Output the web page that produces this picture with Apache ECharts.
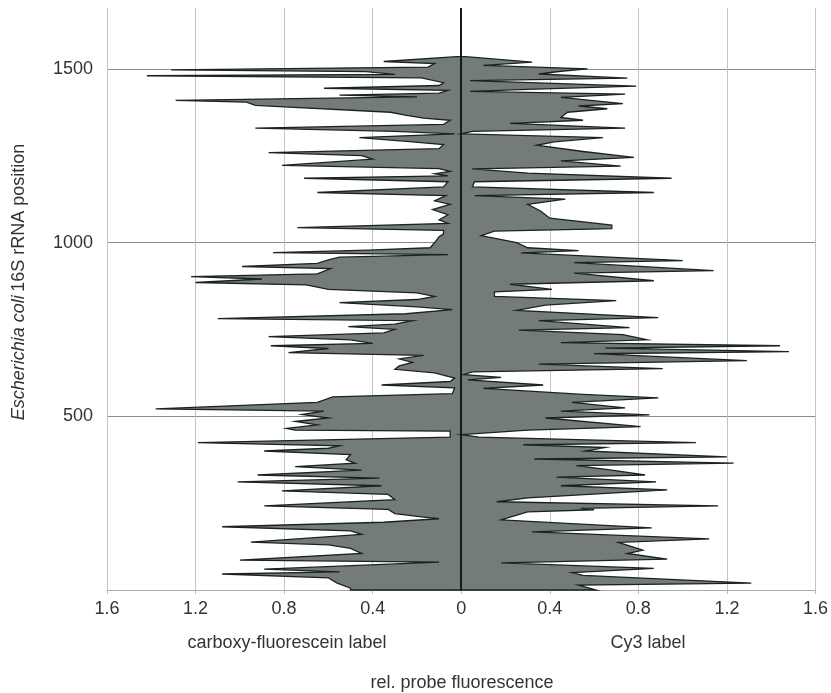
<!DOCTYPE html>
<html>
<head>
<meta charset="utf-8">
<script src="https://cdn.jsdelivr.net/npm/echarts@6/dist/echarts.min.js"></script>
<style>
html,body{margin:0;padding:0;background:#fff;}
#chart{width:831px;height:693px;}
</style>
</head>
<body>
<div id="chart"></div>
<script>
// [rRNA position, rel. fluorescence], listed from the 3' end (top) down
var cfProfile = [
    [1535,0.02],[1521,0.35],[1515,0.12],[1505,0.15],[1497,1.31],[1492,0.43],[1484,0.3],[1480,1.42],
    [1474,0.18],[1460,0.08],[1452,0.1],[1444,0.62],[1438,0.06],[1430,0.1],[1424,0.55],[1419,0.2],
    [1409,1.29],[1404,0.97],[1395,0.93],[1375,0.32],[1365,0.24],[1358,0.17],[1352,0.05],[1340,0.08],
    [1329,0.93],[1320,0.3],[1313,0.03],[1302,0.46],[1290,0.22],[1282,0.08],[1270,0.1],[1259,0.87],
    [1250,0.45],[1240,0.4],[1222,0.81],[1213,0.1],[1205,0.05],[1198,0.12],[1192,0.06],[1185,0.71],
    [1175,0.06],[1160,0.08],[1144,0.65],[1135,0.07],[1120,0.12],[1110,0.05],[1095,0.13],[1080,0.06],
    [1065,0.1],[1055,0.06],[1043,0.74],[1035,0.08],[1025,0.08],[1017,0.1],[1000,0.12],[985,0.14],
    [978,0.42],[971,0.85],[965,0.06],[958,0.55],[950,0.6],[940,0.65],[931,0.99],[925,0.59],
    [910,0.65],[902,1.22],[895,0.9],[885,1.2],[878,0.7],[865,0.6],[855,0.2],[845,0.12],
    [836,0.2],[827,0.55],[815,0.2],[807,0.04],[795,0.25],[781,1.1],[775,0.22],[765,0.3],
    [758,0.51],[750,0.3],[740,0.35],[729,0.87],[720,0.5],[710,0.4],[703,0.86],[695,0.6],
    [683,0.78],[675,0.17],[665,0.28],[655,0.22],[645,0.28],[635,0.3],[625,0.12],[610,0.03],
    [600,0.05],[590,0.36],[582,0.03],[565,0.04],[556,0.58],[540,0.65],[521,1.38],[515,0.62],
    [505,0.72],[495,0.6],[485,0.75],[475,0.65],[465,0.79],[460,0.75],[457,0.05],[440,0.05],
    [424,1.19],[415,0.55],[408,0.6],[400,0.89],[390,0.5],[375,0.52],[365,0.48],[355,0.75],
    [345,0.45],[331,0.92],[322,0.37],[311,1.01],[300,0.36],[285,0.81],[275,0.33],[260,0.3],
    [242,0.89],[232,0.33],[220,0.3],[210,0.17],[205,0.1],[195,0.35],[182,1.08],[170,0.5],
    [160,0.45],[138,0.95],[130,0.6],[120,0.5],[105,0.45],[86,1.0],[80,0.1],[60,0.89],
    [52,0.55],[46,1.08],[35,0.6],[20,0.56],[5,0.5],[0,0.5]
];
var cy3Profile = [
    [1535,0.02],[1519,0.32],[1510,0.1],[1500,0.57],[1493,0.45],[1485,0.35],[1473,0.75],[1466,0.04],
    [1450,0.79],[1441,0.3],[1435,0.04],[1427,0.74],[1418,0.45],[1400,0.73],[1393,0.53],[1385,0.66],
    [1375,0.48],[1360,0.45],[1352,0.55],[1343,0.22],[1329,0.74],[1320,0.05],[1313,0.0],[1302,0.64],
    [1290,0.42],[1280,0.34],[1262,0.55],[1245,0.78],[1235,0.45],[1220,0.72],[1212,0.05],[1200,0.3],
    [1185,0.95],[1175,0.06],[1160,0.05],[1144,0.87],[1135,0.06],[1125,0.47],[1110,0.3],[1090,0.36],
    [1070,0.4],[1050,0.68],[1040,0.68],[1033,0.15],[1020,0.09],[1000,0.25],[985,0.3],[977,0.53],
    [970,0.27],[948,1.0],[942,0.51],[919,1.14],[912,0.51],[890,0.87],[880,0.22],[865,0.41],
    [858,0.15],[845,0.15],[833,0.7],[820,0.38],[805,0.25],[784,0.89],[775,0.35],[755,0.76],
    [748,0.26],[735,0.73],[720,0.84],[712,0.45],[703,1.44],[696,0.65],[686,1.48],[680,0.6],
    [660,1.29],[650,0.35],[637,0.91],[628,0.05],[620,0.01],[612,0.18],[605,0.03],[590,0.37],
    [580,0.1],[563,0.55],[553,0.89],[540,0.5],[524,0.74],[515,0.45],[504,0.85],[495,0.38],
    [470,0.81],[460,0.3],[447,0.0],[440,0.08],[424,1.06],[418,0.28],[410,0.65],[400,0.56],
    [383,1.2],[377,0.33],[365,1.23],[358,0.52],[345,0.68],[331,0.83],[325,0.43],[311,0.88],
    [300,0.45],[288,0.93],[265,0.3],[254,0.16],[242,1.16],[235,0.54],[231,0.6],[225,0.3],
    [202,0.18],[179,0.86],[167,0.32],[147,1.12],[137,0.71],[115,0.82],[105,0.75],[89,0.93],
    [78,0.18],[62,0.87],[50,0.5],[42,0.55],[20,1.31],[14,0.53],[0,0.61]
];
var xRange = [-1.6, 1.6];
var yRange = [0, 1675];
var yTickValues = [0, 500, 1000, 1500];

var font = "'Liberation Sans', Arial, sans-serif";
var textColor = '#333';
var fs = 18;

// one filled polygon per side, closed back onto the zero line
function sideSeries(name, profile, sign, z) {
    return {
        name: name,
        type: 'custom',
        coordinateSystem: 'cartesian2d',
        silent: true,
        z: z,
        data: profile.map(function(p) { return [sign * p[1], p[0]]; }),
        encode: {x: 0, y: 1},
        renderItem: function(params, api) {
            if (params.dataIndex !== 0) return;
            var pts = [api.coord([0, profile[0][0]])];
            for (var i = 0; i < profile.length; i++) {
                pts.push(api.coord([sign * profile[i][1], profile[i][0]]));
            }
            pts.push(api.coord([0, profile[profile.length - 1][0]]));
            return {
                type: 'polygon',
                shape: {points: pts},
                style: {fill: '#737c76', stroke: '#1b231f', lineWidth: 1.3, lineJoin: 'miter'}
            };
        }
    };
}

var chart = echarts.init(document.getElementById('chart'));
var cy3 = sideSeries('Cy3 label', cy3Profile, 1, 4);
cy3.markLine = {
    silent: true,
    symbol: ['none', 'none'],
    label: {show: false},
    lineStyle: {color: '#151a17', width: 2, type: 'solid'},
    data: [{xAxis: 0}]
};

chart.setOption({
    animation: false,
    backgroundColor: '#fff',
    grid: {left: 107, right: 14, top: 8, bottom: 103, containLabel: false},
    xAxis: {
        type: 'value',
        min: xRange[0], max: xRange[1], interval: 0.4,
        axisLine: {show: true, lineStyle: {color: '#aaa'}},
        axisTick: {show: true, length: 4, lineStyle: {color: '#bbb'}},
        splitLine: {show: true, lineStyle: {color: '#c4c4c4', width: 1}},
        axisLabel: {
            margin: 10, fontSize: fs, color: textColor, fontFamily: font,
            formatter: function(v) { return String(Math.round(Math.abs(v) * 10) / 10); }
        }
    },
    yAxis: {
        type: 'value',
        min: yRange[0], max: yRange[1], interval: 500,
        axisLine: {show: true, lineStyle: {color: '#aaa'}},
        axisTick: {show: true, length: 8, customValues: yTickValues, lineStyle: {color: '#888'}},
        splitLine: {show: true, lineStyle: {color: '#8c8c8c', width: 1}},
        axisLabel: {
            margin: 14, fontSize: fs, color: textColor, fontFamily: font,
            customValues: yTickValues.slice(1),
            formatter: function(v) { return String(v); }
        }
    },
    graphic: [
        {type: 'text', x: 287, y: 643, style: {text: 'carboxy-fluorescein label', fill: textColor, font: fs + 'px ' + font, textAlign: 'center', textVerticalAlign: 'middle'}},
        {type: 'text', x: 648, y: 643, style: {text: 'Cy3 label', fill: textColor, font: fs + 'px ' + font, textAlign: 'center', textVerticalAlign: 'middle'}},
        {type: 'text', x: 462, y: 683, style: {text: 'rel. probe fluorescence', fill: textColor, font: fs + 'px ' + font, textAlign: 'center', textVerticalAlign: 'middle'}},
        {
            type: 'text', x: 19, y: 282, rotation: Math.PI / 2,
            style: {
                text: '{i|Escherichia coli} {n|16S rRNA position}',
                textAlign: 'center', textVerticalAlign: 'middle',
                rich: {
                    i: {fontStyle: 'italic', fontSize: fs, fontFamily: font, fill: textColor},
                    n: {fontSize: fs, fontFamily: font, fill: textColor}
                }
            }
        }
    ],
    series: [
        sideSeries('carboxy-fluorescein label', cfProfile, -1, 3),
        cy3
    ]
});
</script>
</body>
</html>
